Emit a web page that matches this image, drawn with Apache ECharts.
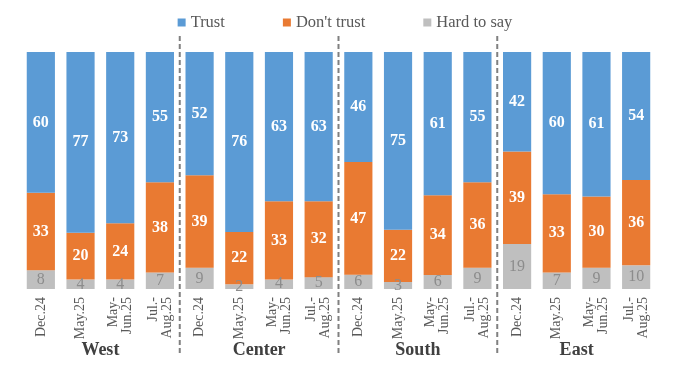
<!DOCTYPE html>
<html>
<head>
<meta charset="utf-8">
<script src="https://cdn.jsdelivr.net/npm/echarts@6/dist/echarts.min.js"></script>
<style>
html,body{margin:0;padding:0;background:#fff;}
#c{width:690px;height:380px;}
</style>
</head>
<body>
<div id="c"></div>
<script>
const categories = ['Dec.24','May.25','May-\nJun.25','Jul.-\nAug.25',
                    'Dec.24','May.25','May-\nJun.25','Jul.-\nAug.25',
                    'Dec.24','May.25','May-\nJun.25','Jul.-\nAug.25',
                    'Dec.24','May.25','May-\nJun.25','Jul.-\nAug.25'];
const groups = ['West','Center','South','East'];
const trust     = [60,77,73,55, 52,76,63,63, 46,75,61,55, 42,60,61,54];
const dontTrust = [33,20,24,38, 39,22,33,32, 47,22,34,36, 39,33,30,36];
const hardToSay = [8,4,4,7,     9,2,4,5,     6,3,6,9,     19,7,9,10];

const FONT = "'Liberation Serif','DejaVu Serif',serif";
const chart = echarts.init(document.getElementById('c'), null, {renderer:'canvas'});

// 100% stacked: each bar is scaled to its own total; labels show the original values
const totals = trust.map((v, i) => v + dontTrust[i] + hardToSay[i]);
const pct = arr => arr.map((v, i) => ({value: v / totals[i] * 100, raw: v}));
const rawFmt = p => String(p.data.raw);

const whiteLabel = {show:true, position:'inside', color:'#ffffff', fontWeight:'bold', fontSize:16, fontFamily:FONT, formatter:rawFmt};

chart.setOption({
  animation:false,
  legend:{
    top:9, left:'center', itemWidth:8, itemHeight:8, itemGap:58,
    icon:'rect',
    textStyle:{fontFamily:FONT, fontSize:16.5, color:'#595959'},
    data:['Trust',"Don't trust",'Hard to say']
  },
  grid:{left:21, right:34, top:52, bottom:91, containLabel:false},
  xAxis:[{
    type:'category', data:categories, position:'bottom',
    axisLine:{show:false}, axisTick:{show:false},
    axisLabel:{rotate:90, margin:8, interval:0, fontFamily:FONT, fontSize:14, lineHeight:14, color:'#595959'}
  },{
    type:'category', data:groups, position:'bottom',
    axisLine:{show:false}, axisTick:{show:false},
    axisLabel:{margin:52, interval:0, fontFamily:FONT, fontSize:18, fontWeight:'bold', color:'#404040'}
  }],
  yAxis:{type:'value', min:0, max:100, show:false},
  series:[
    {name:'Hard to say', type:'bar', stack:'s', data:pct(hardToSay), barWidth:'71%',
     itemStyle:{color:'#bfbfbf'},
     label:{show:true, position:'inside', color:'#8c8c8c', fontSize:16, fontFamily:FONT, formatter:rawFmt}},
    {name:"Don't trust", type:'bar', stack:'s', data:pct(dontTrust), barWidth:'71%',
     itemStyle:{color:'#e97a32'}, label:whiteLabel},
    {name:'Trust', type:'bar', stack:'s', data:pct(trust), barWidth:'71%',
     itemStyle:{color:'#5b9bd5'}, label:whiteLabel}
  ]
});

// dashed separators between region groups
const seps = [];
for (let g = 1; g < groups.length; g++) {
  const i = g * 4;
  const x = (chart.convertToPixel({xAxisIndex:0}, i - 1) + chart.convertToPixel({xAxisIndex:0}, i)) / 2;
  seps.push({
    type:'line', silent:true,
    shape:{x1:x, y1:36, x2:x, y2:356},
    style:{stroke:'#808080', lineWidth:2, lineDash:[5,3]}
  });
}
chart.setOption({graphic:seps});
</script>
</body>
</html>
